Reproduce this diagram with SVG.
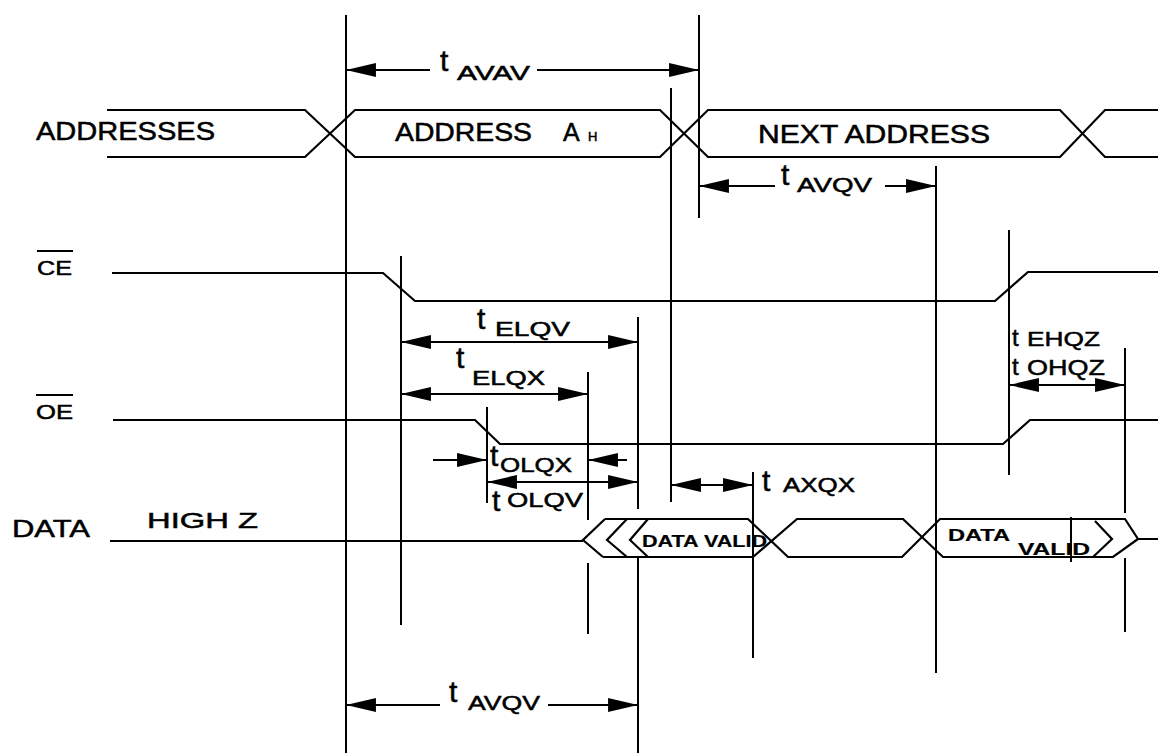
<svg xmlns="http://www.w3.org/2000/svg" width="1158" height="753" viewBox="0 0 1158 753">
<style>
.s{fill:none;stroke:#000;stroke-width:2.2;stroke-linejoin:miter}
.v{fill:none;stroke:#000;stroke-width:2}
.a{fill:none;stroke:#000;stroke-width:2}
text{font-family:"Liberation Sans",Arial,sans-serif;fill:#000;stroke:#000;stroke-width:0.5}
.lb{font-size:25px}
.t{font-size:30px}
.sub{font-size:20px}
.dv{font-size:16px;font-weight:bold;stroke-width:0.2}
</style>
<defs>
<marker id="ah" markerUnits="userSpaceOnUse" markerWidth="30" markerHeight="14" viewBox="0 0 28 13" refX="27" refY="6.5" orient="auto-start-reverse">
<path d="M0,0 L28,6.5 L0,13 z" fill="#000"/>
</marker>
</defs>
<rect width="1158" height="753" fill="#fff" stroke="none"/>

<g id="reference-lines">
<line class="v" x1="346" y1="15" x2="346" y2="753"/>
<line class="v" x1="699" y1="15" x2="699" y2="218"/>
<line class="v" x1="671" y1="88" x2="671" y2="502"/>
<line class="v" x1="401" y1="256" x2="401" y2="625"/>
<line class="v" x1="638" y1="317" x2="638" y2="509"/>
<line class="v" x1="638" y1="558" x2="638" y2="753"/>
<line class="v" x1="588" y1="372" x2="588" y2="520"/>
<line class="v" x1="588" y1="563" x2="588" y2="634"/>
<line class="v" x1="487" y1="407" x2="487" y2="503"/>
<line class="v" x1="753" y1="472" x2="753" y2="658"/>
<line class="v" x1="936" y1="166" x2="936" y2="673"/>
<line class="v" x1="1009" y1="230" x2="1009" y2="475"/>
<line class="v" x1="1125" y1="348" x2="1125" y2="513"/>
<line class="v" x1="1125" y1="558" x2="1125" y2="632"/>
<line class="v" x1="1071" y1="517" x2="1071" y2="562"/>
</g>

<g id="addresses">
<text class="lb" x="36" y="140" textLength="179" lengthAdjust="spacingAndGlyphs">ADDRESSES</text>
<path class="s" d="M107,110 L305,110 L355,157 L660,157 L708,110 L1060,110 L1105,157 L1158,157"/>
<path class="s" d="M107,157 L305,157 L355,110 L660,110 L708,157 L1060,157 L1105,110 L1158,110"/>
<text class="lb" x="395" y="141" textLength="137" lengthAdjust="spacingAndGlyphs">ADDRESS</text>
<text class="lb" x="563" y="141">A</text>
<text x="588" y="141" font-size="13px">H</text>
<text class="lb" x="758" y="143" textLength="232" lengthAdjust="spacingAndGlyphs">NEXT ADDRESS</text>
</g>

<g id="ce">
<text x="37" y="275" font-size="20px" textLength="35" lengthAdjust="spacingAndGlyphs">CE</text>
<line class="a" x1="37" y1="251" x2="73" y2="251"/>
<path class="s" d="M112,273 L383,273 L415,301 L995,301 L1028,272 L1158,272"/>
</g>

<g id="oe">
<text x="36" y="419" font-size="21px" textLength="37" lengthAdjust="spacingAndGlyphs">OE</text>
<line class="a" x1="36" y1="395" x2="73" y2="395"/>
<path class="s" d="M113,420 L475,420 L500,444 L1003,444 L1030,420 L1158,420"/>
</g>

<g id="data">
<text x="12" y="537" font-size="23px" textLength="78" lengthAdjust="spacingAndGlyphs">DATA</text>
<text x="147" y="528" font-size="22px" textLength="111" lengthAdjust="spacingAndGlyphs">HIGH Z</text>
<path class="s" d="M110,541 L583,541"/>
<path class="s" d="M605,519 L583,540 L603,557"/>
<path class="s" d="M627,519 L607,540 L627,557"/>
<path class="s" d="M648,519 L630,540 L648,557"/>
<path class="s" d="M605,519 L748,519 L788,557 L902,557 L940,519 L1125,519 L1138,539 L1158,539"/>
<path class="s" d="M603,557 L753,557 L797,519 L903,519 L943,557 L1113,557 L1138,539"/>
<path class="s" d="M1095,521 L1112,539 L1093,557"/>
<text class="dv" x="642" y="547" textLength="125" lengthAdjust="spacingAndGlyphs">DATA VALID</text>
<text class="dv" x="948" y="541" font-size="17px" textLength="62" lengthAdjust="spacingAndGlyphs">DATA</text>
<text class="dv" x="1018" y="555" font-size="17px" textLength="72" lengthAdjust="spacingAndGlyphs">VALID</text>
</g>

<g id="connectors">
<line class="a" x1="430" y1="70" x2="347" y2="70" marker-end="url(#ah)"/>
<line class="a" x1="537" y1="70" x2="698" y2="70" marker-end="url(#ah)"/>
<line class="a" x1="775" y1="186" x2="700" y2="186" marker-end="url(#ah)"/>
<line class="a" x1="885" y1="186" x2="935" y2="186" marker-end="url(#ah)"/>
<line class="a" x1="402" y1="342" x2="637" y2="342" marker-start="url(#ah)" marker-end="url(#ah)"/>
<line class="a" x1="402" y1="394" x2="587" y2="394" marker-start="url(#ah)" marker-end="url(#ah)"/>
<line class="a" x1="433" y1="460" x2="486" y2="460" marker-end="url(#ah)"/>
<line class="a" x1="627" y1="460" x2="589" y2="460" marker-end="url(#ah)"/>
<line class="a" x1="488" y1="482" x2="637" y2="482" marker-start="url(#ah)" marker-end="url(#ah)"/>
<line class="a" x1="672" y1="485" x2="752" y2="485" marker-start="url(#ah)" marker-end="url(#ah)"/>
<line class="a" x1="1010" y1="385" x2="1124" y2="385" marker-start="url(#ah)" marker-end="url(#ah)"/>
<line class="a" x1="440" y1="705" x2="347" y2="705" marker-end="url(#ah)"/>
<line class="a" x1="548" y1="705" x2="637" y2="705" marker-end="url(#ah)"/>
</g>

<g id="timing-labels">
<text class="t" x="440" y="71" font-size="31px">t</text>
<text class="sub" x="457" y="80" textLength="73" lengthAdjust="spacingAndGlyphs">AVAV</text>
<text class="t" x="781" y="185" font-size="26px">t</text>
<text class="sub" x="797" y="192" font-size="19px" textLength="75" lengthAdjust="spacingAndGlyphs">AVQV</text>
<text class="t" x="477" y="329" font-size="26px">t</text>
<text class="sub" x="495" y="336" font-size="21px" textLength="75" lengthAdjust="spacingAndGlyphs">ELQV</text>
<text class="t" x="456" y="368" font-size="25px">t</text>
<text class="sub" x="472" y="385" font-size="21px" textLength="73" lengthAdjust="spacingAndGlyphs">ELQX</text>
<text class="t" x="490" y="466" font-size="28px">t</text>
<text class="sub" x="500" y="472" font-size="22px" textLength="72" lengthAdjust="spacingAndGlyphs">OLQX</text>
<text class="t" x="492" y="511" font-size="29px">t</text>
<text class="sub" x="507" y="507" font-size="20px" textLength="76" lengthAdjust="spacingAndGlyphs">OLQV</text>
<text class="t" x="762" y="491" font-size="30px">t</text>
<text class="sub" x="783" y="492" font-size="20px" textLength="72" lengthAdjust="spacingAndGlyphs">AXQX</text>
<text x="1012" y="346" font-size="21px"><tspan font-size="24px">t</tspan><tspan x="1027" textLength="73" lengthAdjust="spacingAndGlyphs">EHQZ</tspan></text>
<text x="1012" y="375" font-size="22px"><tspan font-size="24px">t</tspan><tspan x="1027" textLength="78" lengthAdjust="spacingAndGlyphs">OHQZ</tspan></text>
<text class="t" x="449" y="702" font-size="31px">t</text>
<text class="sub" x="468" y="710" font-size="20px" textLength="72" lengthAdjust="spacingAndGlyphs">AVQV</text>
</g>
</svg>
